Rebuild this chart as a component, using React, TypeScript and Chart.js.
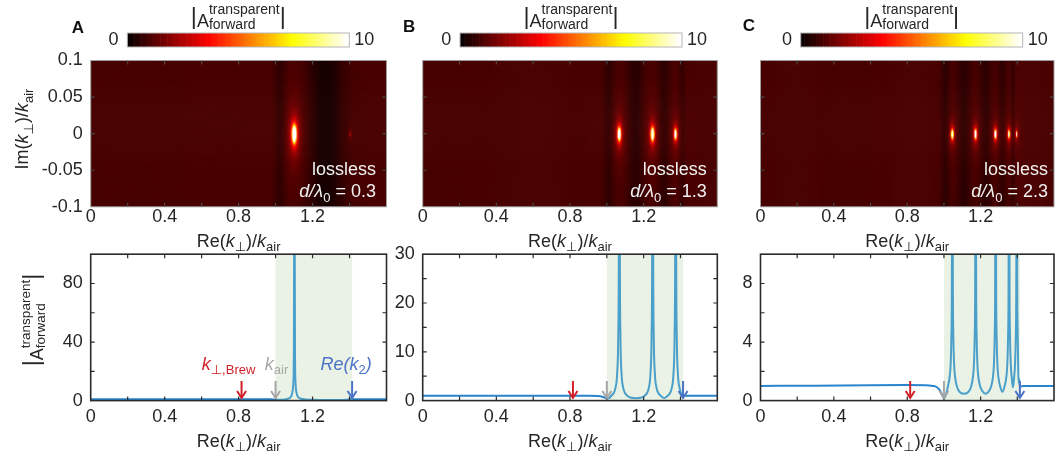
import { useEffect, useRef } from 'react';
import { Chart, registerables } from 'chart.js';

Chart.register(...registerables);

const FONT = "'Liberation Sans', 'DejaVu Sans', Arial, sans-serif";
const PERP = '\u22A5';
const LAMBDA = '\u03BB';

/* ---------------- data ---------------- */
const RE_RANGE = [0, 1.6];
const IM_RANGE = [-0.1, 0.1];
const COLOR_RANGE = [0, 10];
const K_BREW = 0.816;
const K_AIR = 1.0;
const RE_K2 = 1.414;

const reTickValues = [0, 0.2, 0.4, 0.6, 0.8, 1.0, 1.2, 1.4, 1.6];
const reTickLabels = ['0', '', '0.4', '', '0.8', '', '1.2', '', ''];
const imTickValues = [-0.1, -0.05, 0, 0.05, 0.1];
const imTickLabels = ['-0.1', '-0.05', '0', '0.05', '0.1'];

const panelLetters = ['A', 'B', 'C'];
const thicknessLabels = ['0.3', '1.3', '2.3'];

// guided-mode poles on the real axis (Re k / k_air), spot size and core
const modeReA = [1.102, 1.405];
const modeSizeA = [0.03, 0.004];
const modeCoreA = [0.0015, 0.002];
const modeReB = [1.068, 1.249, 1.374];
const modeSizeB = [0.021, 0.021, 0.016];
const modeCoreB = [0.0015, 0.0015, 0.0015];
const modeReC = [1.046, 1.173, 1.282, 1.355, 1.397];
const modeSizeC = [0.015, 0.015, 0.014, 0.012, 0.008];
const modeCoreC = [0.0015, 0.0015, 0.0015, 0.0015, 0.0015];

// darker bands between the modes: centre, width, depth
const dipReA = [1.025, 1.27];
const dipWidthA = [0.035, 0.1];
const dipDepthA = [0.4, 0.75];
const dipReB = [1.012, 1.156, 1.311, 1.41];
const dipWidthB = [0.03, 0.05, 0.035, 0.018];
const dipDepthB = [0.4, 0.5, 0.45, 0.3];
const dipReC = [1.008, 1.11, 1.228, 1.318, 1.377];
const dipWidthC = [0.025, 0.04, 0.035, 0.024, 0.012];
const dipDepthC = [0.4, 0.45, 0.45, 0.4, 0.35];

// |A| along the real axis: [Re(k)/k_air, amplitude]
const curveA: [number, number][] = [
  [0, 1.0], [0.3, 1.0], [0.6, 1.0], [0.9, 1.0], [0.95, 0.97], [0.98, 0.85], [1.0, 0.6], [1.03, 0.6],
  [1.05, 0.8], [1.067, 1.3], [1.082, 2.5], [1.09, 5], [1.096, 12], [1.099, 35], [1.1012, 160],
  [1.1028, 160], [1.105, 35], [1.108, 12], [1.114, 5], [1.122, 2.5], [1.137, 1.3], [1.162, 0.8],
  [1.2, 0.55], [1.27, 0.4], [1.34, 0.45], [1.38, 0.6], [1.398, 0.9], [1.405, 1.3], [1.41, 0.9],
  [1.414, 0.9], [1.42, 1.0], [1.5, 1.0], [1.6, 1.0],
];
const curveB: [number, number][] = [
  [0, 1.0], [0.6, 1.0], [0.9, 1.0], [0.95, 0.95], [0.98, 0.75], [1.0, 0.45], [1.012, 0.5], [1.023, 0.95],
  [1.038, 1.6], [1.048, 2.8], [1.056, 5.5], [1.062, 13], [1.065, 28], [1.0665, 60], [1.0695, 60],
  [1.071, 28], [1.074, 13], [1.08, 5.5], [1.088, 2.8], [1.098, 1.6], [1.113, 0.95], [1.128, 0.65],
  [1.1585, 0.5], [1.189, 0.65], [1.204, 0.95], [1.219, 1.6], [1.229, 2.8], [1.237, 5.5], [1.243, 13],
  [1.246, 28], [1.2475, 60], [1.2505, 60], [1.252, 28], [1.255, 13], [1.261, 5.5], [1.269, 2.8],
  [1.279, 1.6], [1.294, 0.95], [1.3115, 0.55], [1.329, 0.95], [1.344, 1.6], [1.354, 2.8], [1.362, 5.5],
  [1.368, 13], [1.371, 28], [1.3725, 60], [1.3755, 60], [1.377, 28], [1.38, 13], [1.386, 5.5],
  [1.394, 2.8], [1.403, 1.5], [1.41, 0.9], [1.416, 0.8], [1.422, 1.0], [1.5, 1.0], [1.6, 1.0],
];
const curveC: [number, number][] = [
  [0, 1.0], [0.3, 1.02], [0.6, 1.05], [0.8, 1.06], [0.9, 1.05], [0.94, 1.0], [0.96, 0.93], [0.975, 0.75],
  [0.99, 0.4], [1.0, 0.15], [1.008, 0.3], [1.015, 0.6], [1.022, 1.0], [1.031, 1.6], [1.037, 2.6],
  [1.041, 4.6], [1.0435, 9], [1.0452, 30], [1.0468, 30], [1.0485, 9], [1.051, 4.6], [1.055, 2.6],
  [1.061, 1.6], [1.07, 1.0], [1.084, 0.62], [1.1095, 0.47], [1.135, 0.62], [1.149, 1.0], [1.158, 1.6],
  [1.164, 2.6], [1.168, 4.6], [1.1705, 9], [1.1722, 30], [1.1738, 30], [1.1755, 9], [1.178, 4.6],
  [1.182, 2.6], [1.188, 1.6], [1.197, 1.0], [1.211, 0.62], [1.2275, 0.47], [1.244, 0.62], [1.258, 1.0],
  [1.267, 1.6], [1.273, 2.6], [1.277, 4.6], [1.2795, 9], [1.2812, 30], [1.2828, 30], [1.2845, 9],
  [1.287, 4.6], [1.291, 2.6], [1.297, 1.6], [1.306, 1.0], [1.3185, 0.6], [1.331, 1.0], [1.34, 1.6],
  [1.346, 2.6], [1.35, 4.6], [1.3525, 9], [1.3542, 30], [1.3558, 30], [1.3575, 9], [1.36, 4.6],
  [1.364, 2.6], [1.37, 1.5], [1.376, 0.9], [1.382, 1.5], [1.388, 2.6], [1.392, 4.6], [1.3945, 9],
  [1.3962, 30], [1.3978, 30], [1.3995, 9], [1.402, 4.6], [1.405, 2.0], [1.408, 1.2], [1.41, 1.5],
  [1.412, 1.1], [1.416, 0.95], [1.43, 1.0], [1.6, 1.0],
];

const ampMax = [100, 30, 10];
const ampTicksA = [0, 20, 40, 60, 80, 100];
const ampLabelsA = ['0', '', '40', '', '80', ''];
const ampTicksB = [0, 5, 10, 15, 20, 25, 30];
const ampLabelsB = ['0', '', '10', '', '20', '', '30'];
const ampTicksC = [0, 2, 4, 6, 8, 10];
const ampLabelsC = ['0', '', '4', '', '8', ''];

/* ---------------- layout & style ---------------- */
const W = 1060;
const H = 461;
const plotLeft = [90.7, 422.7, 760.5];
const plotRight = [386.5, 717.3, 1054];
const heatTop = 60.5;
const heatBottom = 206.8;
const ampTop = 254.2;
const ampBottom = 400.6;
const cbLeft = [127.3, 460, 800.7];
const cbWidth = 222;
const cbTop = 33;
const cbHeight = 14;
const letterX = [71.7, 403, 742.7];
const letterY = [33.3, 31.7, 30.7];
const noteInset = [10.5, 10.5, 6];

const TEXT = '#262626';
const FRAME = '#2b2b2b';
const GREEN = '#e9f2e4';
const LINE_OUT = '#2a84cc';
const LINE_IN = '#4aa0ca';
const RED = '#d0202a';
const GRAY = '#a6a6a6';
const BLUE = '#4a72c6';

// continuous "hot" colormap (black - red - yellow - white)
function hotColor(v: number) {
  const t = Math.max(0, Math.min(1, (v - COLOR_RANGE[0]) / (COLOR_RANGE[1] - COLOR_RANGE[0])));
  const s = t * 64 + 0.5;
  const r = Math.min(1, s / 24);
  const g = Math.min(1, Math.max(0, (s - 24) / 24));
  const b = Math.min(1, Math.max(0, (s - 48) / 16));
  return `rgb(${Math.round(r * 255)},${Math.round(g * 255)},${Math.round(b * 255)})`;
}

const heatPanels = [
  { re: modeReA, size: modeSizeA, core: modeCoreA, dip: dipReA, dw: dipWidthA, dd: dipDepthA },
  { re: modeReB, size: modeSizeB, core: modeCoreB, dip: dipReB, dw: dipWidthB, dd: dipDepthB },
  { re: modeReC, size: modeSizeC, core: modeCoreC, dip: dipReC, dw: dipWidthC, dd: dipDepthC },
];
const curves = [curveA, curveB, curveC];
const ampTicks = [ampTicksA, ampTicksB, ampTicksC];
const ampLabels = [ampLabelsA, ampLabelsB, ampLabelsC];

function fieldValue(p: (typeof heatPanels)[number], re: number, im: number) {
  let v = 1;
  for (let k = 0; k < p.dip.length; k++) {
    const u = (re - p.dip[k]) / p.dw[k];
    v -= p.dd[k] * Math.exp(-u * u);
  }
  if (v < 0.05) v = 0.05;
  for (let k = 0; k < p.re.length; k++) {
    const dx = re - p.re[k];
    v += (p.size[k] * p.size[k]) / (dx * dx + im * im + p.core[k] * p.core[k]);
  }
  return v;
}

/* ---------------- rich text ---------------- */
type Run = { t?: string; it?: boolean; sub?: boolean; stack?: [string, string]; bar?: boolean };

function setFont(ctx: CanvasRenderingContext2D, size: number, it = false, bold = false) {
  ctx.font = `${it ? 'italic ' : ''}${bold ? 'bold ' : ''}${size}px ${FONT}`;
}
function runWidth(ctx: CanvasRenderingContext2D, r: Run, size: number, small: number) {
  if (r.stack) {
    setFont(ctx, small);
    return Math.max(ctx.measureText(r.stack[0]).width, ctx.measureText(r.stack[1]).width);
  }
  if (r.bar) {
    setFont(ctx, size * 1.3);
    return ctx.measureText('|').width;
  }
  setFont(ctx, r.sub ? small : size, r.it);
  return ctx.measureText(r.t || '').width;
}
function drawRuns(
  ctx: CanvasRenderingContext2D, runs: Run[], x: number, y: number, size: number, small: number,
  align: 'left' | 'center' | 'right', color: string,
) {
  const widths = runs.map((r) => runWidth(ctx, r, size, small));
  const total = widths.reduce((s, w) => s + w, 0);
  let cx = align === 'center' ? x - total / 2 : align === 'right' ? x - total : x;
  ctx.fillStyle = color;
  ctx.textAlign = 'left';
  ctx.textBaseline = 'alphabetic';
  runs.forEach((r, i) => {
    if (r.stack) {
      setFont(ctx, small);
      ctx.fillText(r.stack[0], cx, y - size * 0.74);
      ctx.fillText(r.stack[1], cx, y + size * 0.1);
    } else if (r.bar) {
      setFont(ctx, size * 1.3);
      ctx.fillText('|', cx, y - size * 0.2);
    } else {
      setFont(ctx, r.sub ? small : size, r.it);
      ctx.fillText(r.t || '', cx, r.sub ? y + size * 0.25 : y);
    }
    cx += widths[i];
  });
}
function drawRotated(
  ctx: CanvasRenderingContext2D, runs: Run[], bx: number, cy: number, size: number, small: number, color: string,
) {
  ctx.save();
  ctx.translate(bx, cy);
  ctx.rotate(-Math.PI / 2);
  drawRuns(ctx, runs, 0, 0, size, small, 'center', color);
  ctx.restore();
}

const reTitle: Run[] = [{ t: 'Re(' }, { t: 'k', it: true }, { t: PERP, sub: true }, { t: ')/' }, { t: 'k', it: true }, { t: 'air', sub: true }];
const imTitle: Run[] = [{ t: 'Im(' }, { t: 'k', it: true }, { t: PERP, sub: true }, { t: ')/' }, { t: 'k', it: true }, { t: 'air', sub: true }];
const ampTitle: Run[] = [{ bar: true }, { t: 'A' }, { stack: ['transparent', 'forward'] }, { bar: true }];
const brewLabel: Run[] = [{ t: 'k', it: true }, { t: PERP + ',Brew', sub: true }];
const airLabel: Run[] = [{ t: 'k', it: true }, { t: 'air', sub: true }];
const k2Label: Run[] = [{ t: 'Re(k', it: true }, { t: '2', sub: true }, { t: ')', it: true }];

/* ---------------- drawing helpers ---------------- */
function drawTicks(chart: Chart, xVals: number[], yVals: number[], len: number, color: string) {
  const { ctx, chartArea: a } = chart;
  const x = chart.scales.x;
  const y = chart.scales.y;
  ctx.save();
  ctx.strokeStyle = color;
  ctx.lineWidth = 1.2;
  ctx.beginPath();
  xVals.forEach((v) => {
    const px = x.getPixelForValue(v);
    if (px <= a.left + 0.5 || px >= a.right - 0.5) return;
    ctx.moveTo(px, a.bottom);
    ctx.lineTo(px, a.bottom - len);
    ctx.moveTo(px, a.top);
    ctx.lineTo(px, a.top + len);
  });
  yVals.forEach((v) => {
    const py = y.getPixelForValue(v);
    if (py <= a.top + 0.5 || py >= a.bottom - 0.5) return;
    ctx.moveTo(a.left, py);
    ctx.lineTo(a.left + len, py);
    ctx.moveTo(a.right, py);
    ctx.lineTo(a.right - len, py);
  });
  ctx.stroke();
  ctx.restore();
}

function drawXLabels(chart: Chart, yMid: number, titleBase: number) {
  const { ctx, chartArea: a } = chart;
  const x = chart.scales.x;
  ctx.save();
  setFont(ctx, 18);
  ctx.fillStyle = TEXT;
  ctx.textAlign = 'center';
  ctx.textBaseline = 'middle';
  reTickValues.forEach((v, i) => {
    if (reTickLabels[i]) ctx.fillText(reTickLabels[i], x.getPixelForValue(v), yMid);
  });
  drawRuns(ctx, reTitle, (a.left + a.right) / 2, titleBase, 18, 13, 'center', TEXT);
  ctx.restore();
}

function drawYLabels(chart: Chart, vals: number[], labels: string[]) {
  const { ctx, chartArea: a } = chart;
  const y = chart.scales.y;
  ctx.save();
  setFont(ctx, 18);
  ctx.fillStyle = TEXT;
  ctx.textAlign = 'right';
  ctx.textBaseline = 'middle';
  vals.forEach((v, i) => {
    if (labels[i]) ctx.fillText(labels[i], a.left - 8, y.getPixelForValue(v));
  });
  ctx.restore();
}

function drawArrow(ctx: CanvasRenderingContext2D, x: number, yTop: number, yTip: number, color: string) {
  ctx.save();
  ctx.strokeStyle = color;
  ctx.lineWidth = 2;
  ctx.lineJoin = 'miter';
  ctx.beginPath();
  ctx.moveTo(x, yTop);
  ctx.lineTo(x, yTip - 1);
  ctx.stroke();
  ctx.beginPath();
  ctx.moveTo(x - 4.5, yTip - 7);
  ctx.lineTo(x, yTip);
  ctx.lineTo(x + 4.5, yTip - 7);
  ctx.stroke();
  ctx.restore();
}

/* ---------------- charts ---------------- */
function makeHeatmap(canvas: HTMLCanvasElement, i: number) {
  const panel = heatPanels[i];
  const heatPlugin = {
    id: 'heatCells',
    beforeDatasetsDraw(chart: Chart) {
      const { ctx, chartArea: a } = chart;
      const xs = chart.scales.x;
      const ys = chart.scales.y;
      const nx = 296;
      const ny = 147;
      const dx = (RE_RANGE[1] - RE_RANGE[0]) / nx;
      const dy = (IM_RANGE[1] - IM_RANGE[0]) / ny;
      ctx.save();
      ctx.beginPath();
      ctx.rect(a.left, a.top, a.right - a.left, a.bottom - a.top);
      ctx.clip();
      for (let c = 0; c < nx; c++) {
        const x0 = RE_RANGE[0] + c * dx;
        const px0 = xs.getPixelForValue(x0);
        const px1 = xs.getPixelForValue(x0 + dx);
        const xc = x0 + dx / 2;
        for (let r = 0; r < ny; r++) {
          const y0 = IM_RANGE[0] + r * dy;
          const py0 = ys.getPixelForValue(y0);
          const py1 = ys.getPixelForValue(y0 + dy);
          ctx.fillStyle = hotColor(fieldValue(panel, xc, y0 + dy / 2));
          ctx.fillRect(px0, py1, px1 - px0 + 0.6, py0 - py1 + 0.6);
        }
      }
      ctx.restore();
    },
    afterDraw(chart: Chart) {
      const { ctx, chartArea: a } = chart;
      ctx.save();
      ctx.strokeStyle = '#a0a0a0';
      ctx.lineWidth = 1;
      ctx.strokeRect(a.left, a.top, a.right - a.left, a.bottom - a.top);
      ctx.restore();
      drawTicks(chart, reTickValues, imTickValues, 4, '#4a4a4a');
      drawXLabels(chart, a.bottom + 10.7, a.bottom + 39.7);
      if (i === 0) {
        drawYLabels(chart, imTickValues, imTickLabels);
        drawRotated(ctx, imTitle, 28.3, 129, 18, 13, TEXT);
      }
      // in-plot notes
      ctx.save();
      setFont(ctx, 18);
      ctx.fillStyle = '#f2f2f2';
      ctx.textAlign = 'right';
      ctx.textBaseline = 'alphabetic';
      ctx.fillText('lossless', a.right - noteInset[i], a.top + 114.5);
      drawRuns(
        ctx,
        [{ t: 'd', it: true }, { t: '/', it: true }, { t: LAMBDA, it: true }, { t: '0', sub: true }, { t: ' = ' + thicknessLabels[i] }],
        a.right - noteInset[i], a.top + 136.5, 18, 13, 'right', '#f2f2f2',
      );
      ctx.restore();
      // colour bar
      const cl = cbLeft[i];
      ctx.save();
      const steps = 128;
      for (let k = 0; k < steps; k++) {
        const v = COLOR_RANGE[0] + ((k + 0.5) / steps) * (COLOR_RANGE[1] - COLOR_RANGE[0]);
        ctx.fillStyle = hotColor(v);
        ctx.fillRect(cl + (k * cbWidth) / steps, cbTop, cbWidth / steps + 0.6, cbHeight);
      }
      ctx.strokeStyle = '#b5b5b5';
      ctx.lineWidth = 1;
      ctx.strokeRect(cl, cbTop, cbWidth, cbHeight);
      setFont(ctx, 18);
      ctx.fillStyle = TEXT;
      ctx.textBaseline = 'middle';
      ctx.textAlign = 'right';
      ctx.fillText(String(COLOR_RANGE[0]), cl - 8.7, cbTop + cbHeight / 2);
      ctx.textAlign = 'left';
      ctx.fillText(String(COLOR_RANGE[1]), cl + cbWidth + 5, cbTop + cbHeight / 2);
      drawRuns(ctx, ampTitle, cl + cbWidth / 2, 27.2, 18, 14, 'center', TEXT);
      // panel letter
      setFont(ctx, 17, false, true);
      ctx.fillStyle = '#111';
      ctx.textAlign = 'left';
      ctx.textBaseline = 'alphabetic';
      ctx.fillText(panelLetters[i], letterX[i], letterY[i]);
      ctx.restore();
    },
  };

  return new Chart(canvas, {
    type: 'scatter',
    data: { datasets: [{ data: [], pointRadius: 0 }] },
    options: {
      animation: false,
      responsive: false,
      events: [],
      layout: { padding: { left: plotLeft[i], right: W - plotRight[i], top: heatTop, bottom: H - heatBottom } },
      scales: {
        x: { type: 'linear', min: RE_RANGE[0], max: RE_RANGE[1], display: false },
        y: { type: 'linear', min: IM_RANGE[0], max: IM_RANGE[1], display: false },
      },
      plugins: { legend: { display: false }, tooltip: { enabled: false } },
    },
    plugins: [heatPlugin],
  });
}

function makeLinePlot(canvas: HTMLCanvasElement, i: number) {
  const curve = curves[i];
  const decor = {
    id: 'ampDecor',
    beforeDatasetsDraw(chart: Chart) {
      const { ctx, chartArea: a } = chart;
      const xs = chart.scales.x;
      const x0 = xs.getPixelForValue(K_AIR);
      const x1 = xs.getPixelForValue(RE_K2);
      ctx.save();
      ctx.fillStyle = GREEN;
      ctx.fillRect(x0, a.top, x1 - x0, a.bottom - a.top);
      ctx.restore();
    },
    afterDatasetsDraw(chart: Chart) {
      const { ctx, chartArea: a } = chart;
      const xs = chart.scales.x;
      ctx.save();
      ctx.strokeStyle = FRAME;
      ctx.lineWidth = 1.6;
      ctx.strokeRect(a.left, a.top, a.right - a.left, a.bottom - a.top);
      ctx.restore();
      drawTicks(chart, reTickValues, ampTicks[i], 4, FRAME);
      drawXLabels(chart, a.bottom + 16, a.bottom + 46);
      drawYLabels(chart, ampTicks[i], ampLabels[i]);
      if (i === 0) drawRotated(ctx, ampTitle, 43, 320, 18, 13.5, TEXT);
      const tip = a.bottom - 2.6;
      const top = a.bottom - 19.6;
      drawArrow(ctx, xs.getPixelForValue(K_BREW), top, tip, RED);
      drawArrow(ctx, xs.getPixelForValue(K_AIR), top, tip, GRAY);
      drawArrow(ctx, xs.getPixelForValue(RE_K2), top, tip, BLUE);
      if (i === 0) {
        const base = a.bottom - 31;
        ctx.save();
        drawRuns(ctx, brewLabel, xs.getPixelForValue(K_BREW) - 13, base, 18, 13, 'center', RED);
        drawRuns(ctx, airLabel, xs.getPixelForValue(K_AIR) + 1, base, 18, 13, 'center', GRAY);
        drawRuns(ctx, k2Label, xs.getPixelForValue(RE_K2) - 6, base, 18, 13, 'center', BLUE);
        ctx.restore();
      }
    },
  };

  const inBand = (idx: number) => curve[idx][0] >= K_AIR - 1e-9 && curve[idx][0] <= RE_K2 + 0.004;

  return new Chart(canvas, {
    type: 'line',
    data: {
      datasets: [
        {
          data: curve.map(([x, y]) => ({ x, y })),
          borderColor: LINE_OUT,
          borderWidth: 2,
          pointRadius: 0,
          cubicInterpolationMode: 'monotone',
          segment: {
            borderColor: (c: any) => (inBand(c.p0DataIndex) && inBand(c.p1DataIndex) ? LINE_IN : LINE_OUT),
          },
        },
      ],
    },
    options: {
      animation: false,
      responsive: false,
      events: [],
      layout: { padding: { left: plotLeft[i], right: W - plotRight[i], top: ampTop, bottom: H - ampBottom } },
      scales: {
        x: { type: 'linear', min: RE_RANGE[0], max: RE_RANGE[1], display: false },
        y: { type: 'linear', min: 0, max: ampMax[i], display: false },
      },
      plugins: { legend: { display: false }, tooltip: { enabled: false } },
    },
    plugins: [decor],
  });
}

export default function App() {
  const refs = useRef<(HTMLCanvasElement | null)[]>([]);
  useEffect(() => {
    const charts: Chart[] = [];
    for (let i = 0; i < 3; i++) {
      const hc = refs.current[i];
      const lc = refs.current[3 + i];
      if (hc) charts.push(makeHeatmap(hc, i));
      if (lc) charts.push(makeLinePlot(lc, i));
    }
    return () => charts.forEach((c) => c.destroy());
  }, []);
  return (
    <div style={{ position: 'fixed', left: 0, top: 0, width: W, height: H, background: '#fff' }}>
      {Array.from({ length: 6 }, (_, i) => (
        <canvas
          key={i}
          ref={(el) => {
            refs.current[i] = el;
          }}
          width={W}
          height={H}
          style={{ position: 'absolute', left: 0, top: 0, width: W, height: H }}
        />
      ))}
    </div>
  );
}
